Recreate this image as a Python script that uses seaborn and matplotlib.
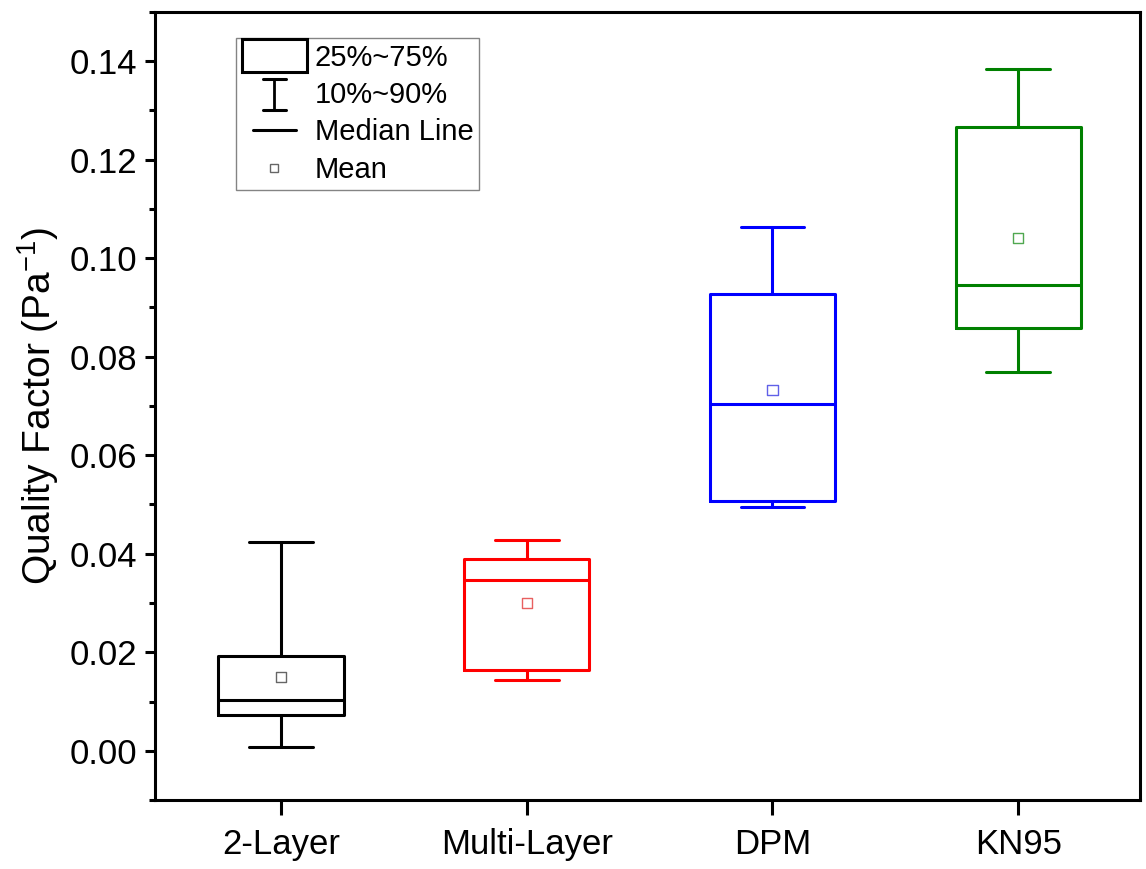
import numpy as np
import matplotlib
matplotlib.use("Agg")
import matplotlib.pyplot as plt
import seaborn as sns
from matplotlib.lines import Line2D
from matplotlib.patches import Rectangle, Patch
from matplotlib.legend_handler import HandlerBase
from matplotlib.ticker import MultipleLocator, FormatStrFormatter

# values
categories = ["2-Layer", "Multi-Layer", "DPM", "KN95"]
p10 = [0.0008, 0.0144, 0.0494, 0.0770]
q25 = [0.0073, 0.0164, 0.0507, 0.0859]
median = [0.0103, 0.0346, 0.0705, 0.0946]
q75 = [0.0192, 0.0389, 0.0928, 0.1266]
p90 = [0.0423, 0.0427, 0.1064, 0.1384]
means = [0.0150, 0.0300, 0.0733, 0.1041]

box_colors = ["#000000", "#ff0000", "#0000ff", "#008000"]
mean_colors = ["#666666", "#e86060", "#6060e8", "#50a850"]


class BoxHandler(HandlerBase):
    def create_artists(self, legend, orig_handle, xdescent, ydescent,
                       width, height, fontsize, trans):
        h = height * 1.6
        y0 = -ydescent + (height - h) / 2
        r = Rectangle((-xdescent, y0), width, h, facecolor="none",
                      edgecolor="black", lw=2.2, transform=trans)
        return [r]


class IBarHandler(HandlerBase):
    def create_artists(self, legend, orig_handle, xdescent, ydescent,
                       width, height, fontsize, trans):
        cx = -xdescent + width / 2
        h = height * 1.55
        y0 = -ydescent + (height - h) / 2 - 1
        cw = width * 0.17
        arts = [
            Line2D([cx, cx], [y0, y0 + h], color="black", lw=2.0),
            Line2D([cx - cw, cx + cw], [y0, y0], color="black", lw=2.2),
            Line2D([cx - cw, cx + cw], [y0 + h, y0 + h], color="black", lw=2.2),
        ]
        for a in arts:
            a.set_transform(trans)
        return arts


class MedianHandler(HandlerBase):
    def create_artists(self, legend, orig_handle, xdescent, ydescent,
                       width, height, fontsize, trans):
        cx = -xdescent + width / 2
        cy = -ydescent + height / 2
        hw = width * 0.33
        ln = Line2D([cx - hw, cx + hw], [cy, cy], color="black", lw=2.2)
        ln.set_transform(trans)
        return [ln]


def main():
    sns.set_theme(style="ticks")
    plt.rcParams["font.family"] = ["Liberation Sans", "DejaVu Sans"]
    plt.rcParams["mathtext.fontset"] = "custom"
    plt.rcParams["mathtext.rm"] = "Liberation Sans"
    plt.rcParams["mathtext.default"] = "regular"
    plt.rcParams["text.color"] = "black"
    plt.rcParams["axes.labelcolor"] = "black"
    plt.rcParams["xtick.color"] = "black"
    plt.rcParams["ytick.color"] = "black"

    fig = plt.figure(figsize=(11.46, 8.69), dpi=100)
    ax = fig.add_axes([0.1353, 0.0794, 0.8595, 0.9068])

    positions = np.arange(len(categories))
    stats = []
    for i, cat in enumerate(categories):
        stats.append(dict(label=cat, whislo=p10[i], q1=q25[i], med=median[i],
                          q3=q75[i], whishi=p90[i], mean=means[i], fliers=[]))

    bp = ax.bxp(stats, positions=positions, widths=0.51, showmeans=False,
                showfliers=False, patch_artist=False, manage_ticks=False)
    for i, c in enumerate(box_colors):
        bp["boxes"][i].set(color=c, lw=2.2)
        bp["medians"][i].set(color=c, lw=2.2)
        for ln in bp["whiskers"][2 * i:2 * i + 2]:
            ln.set(color=c, lw=2.2)
        for ln in bp["caps"][2 * i:2 * i + 2]:
            ln.set(color=c, lw=2.2)
            xd = ln.get_xdata()
            mid = (xd[0] + xd[1]) / 2
            ln.set_xdata([mid - 0.13, mid + 0.13])

    sns.scatterplot(x=positions, y=means, marker="s", s=55, facecolor="none",
                    edgecolor=mean_colors, linewidth=1.0, zorder=5, ax=ax,
                    legend=False)

    ax.set_xlim(-0.513, 3.496)
    ax.set_ylim(-0.01, 0.15)
    ax.set_xticks(positions)
    ax.set_xticklabels(categories)
    ax.yaxis.set_major_locator(MultipleLocator(0.02))
    ax.yaxis.set_minor_locator(MultipleLocator(0.01))
    ax.yaxis.set_major_formatter(FormatStrFormatter("%.2f"))

    for s in ax.spines.values():
        s.set_visible(True)
        s.set_linewidth(2.2)
        s.set_color("black")

    ax.tick_params(axis="y", which="major", length=7, width=2.2, labelsize=25,
                   direction="out", pad=6)
    ax.tick_params(axis="y", which="minor", length=4, width=2.2, direction="out")
    ax.tick_params(axis="x", which="major", length=11, width=2.2, labelsize=25,
                   direction="out", pad=9)
    ax.tick_params(top=False, right=False, which="both")

    ax.set_ylabel("Quality Factor (Pa$^{-1}$)", fontsize=28, labelpad=6)
    ax.set_xlabel("")

    handles = [
        Patch(facecolor="none", edgecolor="black"),
        Line2D([], [], color="black"),
        Line2D([], [], color="black", lw=2.2),
        Line2D([], [], color="#666666", marker="s", markersize=6,
               markerfacecolor="none", markeredgewidth=1.0, linestyle="none"),
    ]
    labels = ["25%~75%", "10%~90%", "Median Line", "Mean"]
    leg = ax.legend(handles, labels, loc="upper left",
                    bbox_to_anchor=(0.082, 0.967), borderaxespad=0,
                    fontsize=21, handlelength=2.25, handletextpad=0.25,
                    labelspacing=0.32, borderpad=0.2, frameon=True,
                    fancybox=False,
                    handler_map={handles[0]: BoxHandler(),
                                 handles[1]: IBarHandler(),
                                 handles[2]: MedianHandler()})
    leg.get_frame().set_edgecolor("#666666")
    leg.get_frame().set_linewidth(1.0)

    fig.savefig("out.png", dpi=100)
    plt.close(fig)


if __name__ == "__main__":
    main()
